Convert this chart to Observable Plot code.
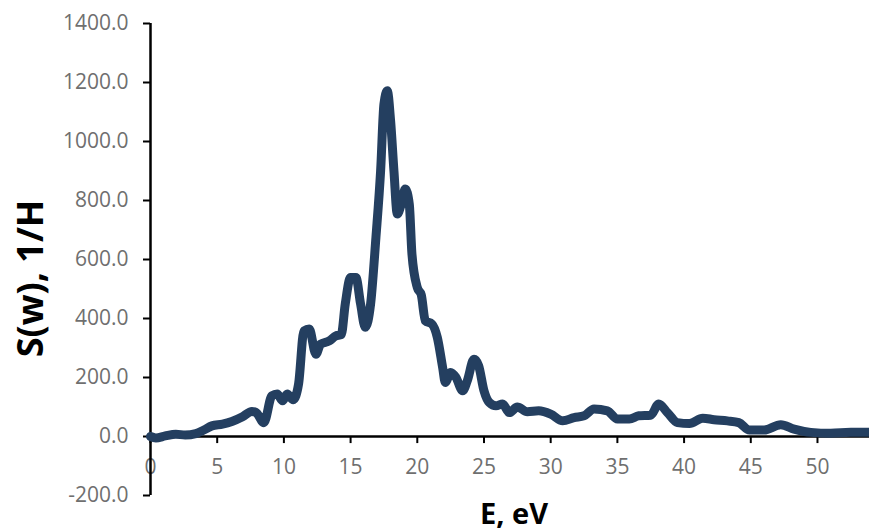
<!DOCTYPE html>
<html>
<head>
<meta charset="utf-8">
<script src="https://cdn.jsdelivr.net/npm/d3@7"></script>
<script src="https://cdn.jsdelivr.net/npm/@observablehq/plot@0.6"></script>
<style>
  html, body { margin: 0; padding: 0; background: #fff; }
  #chart svg { display: block; }
</style>
</head>
<body>
<div id="chart"></div>
<script>
const energy = [0,0.4,1.1,1.9,2.6,3.4,4.0,4.6,5.4,6.1,6.9,7.6,7.9,8.5,9.1,9.5,9.9,10.25,10.7,11.1,11.5,11.9,12.4,12.75,13.4,13.9,14.3,14.6,15.0,15.4,15.75,16.1,16.5,16.9,17.25,17.5,17.75,18.0,18.25,18.5,18.8,19.1,19.4,19.6,20.0,20.3,20.6,21.1,21.5,21.9,22.1,22.5,22.9,23.4,23.75,24.25,24.6,25.0,25.4,25.9,26.4,26.9,27.5,28.25,29.1,30.0,30.9,31.75,32.5,33.25,34.25,35.0,35.9,36.6,37.5,38.1,38.75,39.5,40.4,41.4,42.25,43.25,44.1,44.9,46.0,47.25,48.25,49.5,51.0,52.5,53.9];
const sw = [0,-5,2,8,5,10,22,36,42,51,67,85,82,47,138,144,121,144,125,178,358,364,279,313,324,341,345,449,539,539,449,370,449,675,900,1127,1172,1070,900,754,788,839,788,618,505,480,392,381,336,234,183,217,200,155,189,262,240,155,115,104,110,81,100,84,87,76,53,64,70,93,87,59,59,70,72,110,81,47,44,62,57,53,47,22,22,40,25,14,11,14,14];
const xTicks = [0,5,10,15,20,25,30,35,40,45,50];
const yTicks = [-200,0,200,400,600,800,1000,1200,1400];
const xTitle = "E, eV";
const yTitle = "S(w), 1/H";

const data = energy.map((e, i) => ({e, s: sw[i]}));
const tickColor = "#6f6f6f";

const chart = Plot.plot({
  width: 869,
  height: 531,
  marginLeft: 150,
  marginRight: 0,
  marginTop: 23,
  marginBottom: 36,
  style: {fontFamily: "'Open Sans', sans-serif", fontSize: "21px", background: "#fff"},
  x: {domain: [0, 53.9], axis: null},
  y: {domain: [-200, 1400], axis: null},
  marks: [
    Plot.axisY(yTicks, {
      tickSize: 7, tickPadding: 15, stroke: "black", strokeWidth: 2,
      fill: tickColor, fontSize: 21, tickFormat: d => d.toFixed(1), label: null
    }),
    Plot.ruleX(xTicks, {x: d => d, y1: 0, y2: -24, stroke: "black", strokeWidth: 2}),
    Plot.text(xTicks, {x: d => d, y: 0, dy: 31, text: d => String(d), fill: tickColor, fontSize: 21}),
    Plot.ruleY([0], {stroke: "black", strokeWidth: 2.5}),
    Plot.ruleX([0], {stroke: "black", strokeWidth: 2.5}),
    Plot.line(data, {x: "e", y: "s", curve: "monotone-x", stroke: "#243f60", strokeWidth: 9, strokeLinejoin: "round", strokeLinecap: "round"}),
    Plot.text([yTitle], {text: d => d, frameAnchor: "left", dx: -119, dy: 19, rotate: -90,
      fontSize: 36, fontWeight: "bold", fill: "black", textAnchor: "middle", lineAnchor: "middle"}),
    Plot.text([xTitle], {text: d => d, frameAnchor: "bottom", dx: 4, dy: 19,
      fontSize: 29, fontWeight: "bold", fill: "black", textAnchor: "middle", lineAnchor: "middle"})
  ]
});
document.getElementById("chart").appendChild(chart);
</script>
</body>
</html>
